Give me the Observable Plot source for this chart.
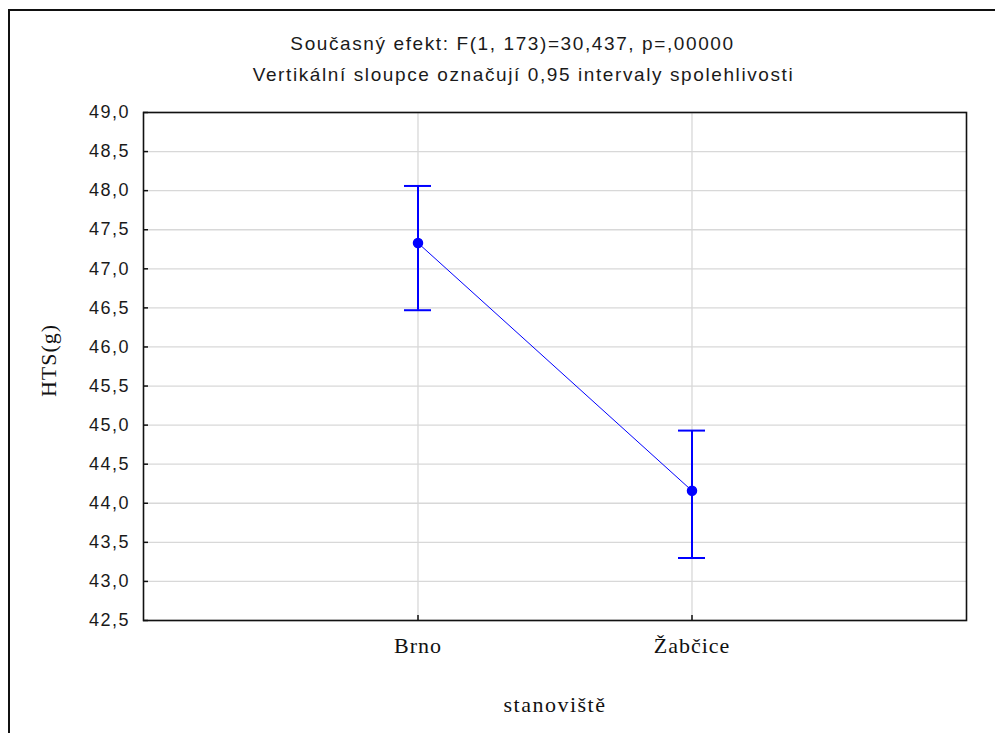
<!DOCTYPE html>
<html>
<head>
<meta charset="utf-8">
<script src="https://cdn.jsdelivr.net/npm/d3@7"></script>
<script src="https://cdn.jsdelivr.net/npm/@observablehq/plot@0.6"></script>
<style>
  html, body { margin: 0; padding: 0; background: #fff; overflow: hidden; }
  #wrap { position: relative; width: 995px; height: 733px; }
  #border { position: absolute; left: 8px; top: 9px; width: 1000px; height: 800px;
            border-left: 2px solid #111; border-top: 2px solid #111; pointer-events: none; }
  svg { position: absolute; left: 0; top: 0; }
  .ttl text { letter-spacing: 1.6px; }
  .ytl text { letter-spacing: 1.5px; }
  .xtl text { letter-spacing: 1px; }
  .ylab text { letter-spacing: 1px; }
  .xlab text { letter-spacing: 1.5px; }
</style>
</head>
<body>
<div id="wrap"><div id="border"></div></div>
<script>
const sites = ["Brno", "Žabčice"];
const means = [47.33, 44.16];
const lower = [46.47, 43.30];
const upper = [48.06, 44.93];
const yTicks = [42.5, 43.0, 43.5, 44.0, 44.5, 45.0, 45.5, 46.0, 46.5, 47.0, 47.5, 48.0, 48.5, 49.0];
const titleLine1 = "Současný efekt: F(1, 173)=30,437, p=,00000";
const titleLine2 = "Vertikální sloupce označují 0,95 intervaly spolehlivosti";
const yLabel = "HTS(g)";
const xLabel = "stanoviště";

const data = sites.map((s, i) => ({site: s, mean: means[i], lower: lower[i], upper: upper[i]}));
const fmt = d => d.toFixed(1).replace(".", ",");
const sans = "Arial, 'Liberation Sans', sans-serif";
const serif = "'Times New Roman', 'Liberation Serif', serif";

const chart = Plot.plot({
  width: 995,
  height: 733,
  marginLeft: 143,
  marginTop: 112,
  marginRight: 29,
  marginBottom: 113,
  style: {background: "transparent", color: "#111"},
  x: {type: "band", domain: sites, paddingInner: 0.9, paddingOuter: 0.95, label: null},
  y: {domain: [42.5, 49], label: null},
  marks: [
    Plot.gridY(yTicks, {stroke: "#d8d8d8", strokeOpacity: 1, strokeWidth: 1.3}),
    Plot.gridX(sites, {stroke: "#d8d8d8", strokeOpacity: 1, strokeWidth: 1.3}),
    Plot.axisY(yTicks, {tickSize: -5, tickFormat: () => "", stroke: "#111", strokeWidth: 1.5, label: null}),
    Plot.axisY(yTicks, {tickSize: 0, tickPadding: 13.5, tickFormat: fmt, fontSize: 18, fontFamily: sans, fill: "#1a1a1a", label: null, className: "ytl"}),
    Plot.axisX(sites, {tickSize: -5, tickFormat: () => "", stroke: "#111", strokeWidth: 1.5, label: null}),
    Plot.axisX(sites, {tickSize: 0, tickPadding: 17, fontSize: 22, fontFamily: serif, fill: "#111", label: null, className: "xtl"}),
    Plot.frame({stroke: "#111", strokeWidth: 1.6}),
    Plot.line(data, {x: "site", y: "mean", stroke: "#0000ff", strokeWidth: 1}),
    Plot.ruleX(data, {x: "site", y1: "lower", y2: "upper", stroke: "#0000ff", strokeWidth: 2}),
    Plot.tickY(data, {x: "site", y: "upper", stroke: "#0000ff", strokeWidth: 2}),
    Plot.tickY(data, {x: "site", y: "lower", stroke: "#0000ff", strokeWidth: 2}),
    Plot.dot(data, {x: "site", y: "mean", r: 4.5, fill: "#0000ff", stroke: "#0000ff"}),
    Plot.text([titleLine1], {frameAnchor: "top-left", dx: 369, dy: -69, lineAnchor: "middle", text: d => d, textAnchor: "middle", fontSize: 19, fontFamily: sans, fill: "#1a1a1a", className: "ttl"}),
    Plot.text([titleLine2], {frameAnchor: "top-left", dx: 380, dy: -38, lineAnchor: "middle", text: d => d, textAnchor: "middle", fontSize: 19, fontFamily: sans, fill: "#1a1a1a", className: "ttl"}),
    Plot.text([yLabel], {frameAnchor: "left", dx: -95, dy: -6, rotate: -90, lineAnchor: "middle", textAnchor: "middle", text: d => d, fontSize: 22, fontFamily: serif, fill: "#111", className: "ylab"}),
    Plot.text([xLabel], {frameAnchor: "bottom", dy: 84, lineAnchor: "middle", textAnchor: "middle", text: d => d, fontSize: 22, fontFamily: serif, fill: "#111", className: "xlab"})
  ]
});
document.getElementById("wrap").appendChild(chart);
</script>
</body>
</html>
